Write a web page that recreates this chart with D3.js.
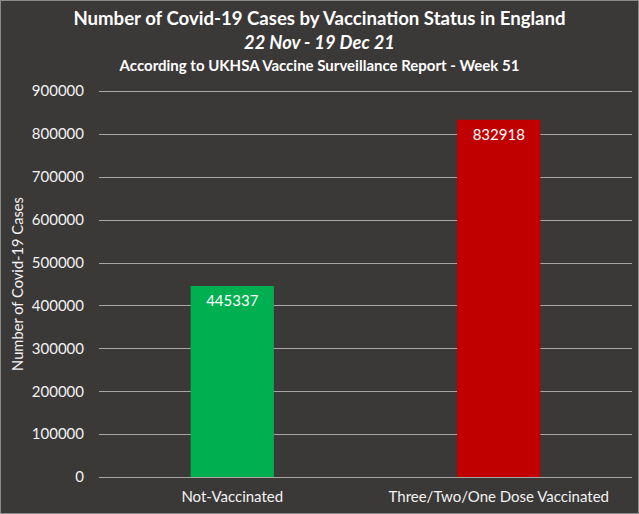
<!DOCTYPE html>
<html>
<head>
<meta charset="utf-8">
<script src="https://cdn.jsdelivr.net/npm/d3@7"></script>
<style>
  html, body { margin: 0; padding: 0; background: #3b3838; }
  svg { display: block; }
</style>
</head>
<body>
<svg id="chart"></svg>
<script>
// Covid-19 cases by vaccination status (bar chart)

const categories = ["Not-Vaccinated", "Three/Two/One Dose Vaccinated"];
const cases = [445337, 832918];
const barColors = ["#00b050", "#c00000"];
const yTicks = [0, 100000, 200000, 300000, 400000, 500000, 600000, 700000, 800000, 900000];

const WIDTH = 639;
const HEIGHT = 514;
const FONT = "Lato, 'Open Sans', sans-serif";

const margin = { top: 91, right: 7, bottom: 37, left: 99 };

const svg = d3.select("#chart")
    .attr("width", WIDTH)
    .attr("height", HEIGHT);

// Background with light border
svg.append("rect")
    .attr("x", 0.5).attr("y", 0.5)
    .attr("width", WIDTH - 1).attr("height", HEIGHT - 1)
    .attr("fill", "#3b3838")
    .attr("stroke", "#8a8a8a")
    .attr("stroke-width", 1);

const x = d3.scaleBand()
    .domain(categories)
    .range([margin.left, WIDTH - margin.right])
    .paddingInner(0.6875)
    .paddingOuter(0.34375);

const y = d3.scaleLinear()
    .domain([0, 900000])
    .range([HEIGHT - margin.bottom, margin.top]);

// Gridlines
svg.append("g")
    .selectAll("line")
    .data(yTicks)
    .join("line")
    .attr("x1", margin.left)
    .attr("x2", WIDTH - margin.right)
    .attr("y1", d => Math.round(y(d)) + 0.5)
    .attr("y2", d => Math.round(y(d)) + 0.5)
    .attr("stroke", "#a6a6a6")
    .attr("stroke-width", 1);

// Y axis tick labels
const yAxis = svg.append("g")
    .attr("transform", `translate(${margin.left - 15},0)`)
    .call(d3.axisLeft(y).tickValues(yTicks).tickSize(0).tickPadding(0).tickFormat(d3.format("d")));
yAxis.select(".domain").remove();
yAxis.selectAll("text")
    .attr("fill", "#f2f2f2")
    .attr("font-family", FONT)
    .attr("font-size", "15px");

// Bars
svg.append("g")
    .selectAll("rect")
    .data(cases)
    .join("rect")
    .attr("x", (d, i) => x(categories[i]))
    .attr("y", d => y(d))
    .attr("width", x.bandwidth())
    .attr("height", d => y(0) - y(d))
    .attr("fill", (d, i) => barColors[i]);

// Value labels inside the bar tops
svg.append("g")
    .selectAll("text")
    .data(cases)
    .join("text")
    .attr("x", (d, i) => x(categories[i]) + x.bandwidth() / 2)
    .attr("y", d => y(d) + 20)
    .attr("text-anchor", "middle")
    .attr("fill", "#ffffff")
    .attr("font-family", FONT)
    .attr("font-size", "15px")
    .text(d => d);

// X axis category labels
const xAxis = svg.append("g")
    .attr("transform", `translate(0,${y(0) + 14})`)
    .call(d3.axisBottom(x).tickSize(0).tickPadding(0));
xAxis.select(".domain").remove();
xAxis.selectAll("text")
    .attr("fill", "#f2f2f2")
    .attr("font-family", FONT)
    .attr("font-size", "15px");

// Y axis title
svg.append("text")
    .attr("transform", `translate(23,${(margin.top + y(0)) / 2}) rotate(-90)`)
    .attr("text-anchor", "middle")
    .attr("fill", "#f2f2f2")
    .attr("font-family", FONT)
    .attr("font-size", "14.7px")
    .text("Number of Covid-19 Cases");

// Titles
svg.append("text")
    .attr("x", WIDTH / 2).attr("y", 25)
    .attr("text-anchor", "middle")
    .attr("fill", "#ffffff")
    .attr("font-family", FONT)
    .attr("font-weight", "bold")
    .attr("font-size", "18.6px")
    .text("Number of Covid-19 Cases by Vaccination Status in England");

svg.append("text")
    .attr("x", WIDTH / 2).attr("y", 49)
    .attr("text-anchor", "middle")
    .attr("fill", "#ffffff")
    .attr("font-family", FONT)
    .attr("font-weight", "bold")
    .attr("font-style", "italic")
    .attr("font-size", "18.3px")
    .text("22 Nov - 19 Dec 21");

svg.append("text")
    .attr("x", WIDTH / 2).attr("y", 71)
    .attr("text-anchor", "middle")
    .attr("fill", "#ffffff")
    .attr("font-family", FONT)
    .attr("font-weight", "bold")
    .attr("font-size", "15px")
    .text("According to UKHSA Vaccine Surveillance Report - Week 51");
</script>
</body>
</html>
